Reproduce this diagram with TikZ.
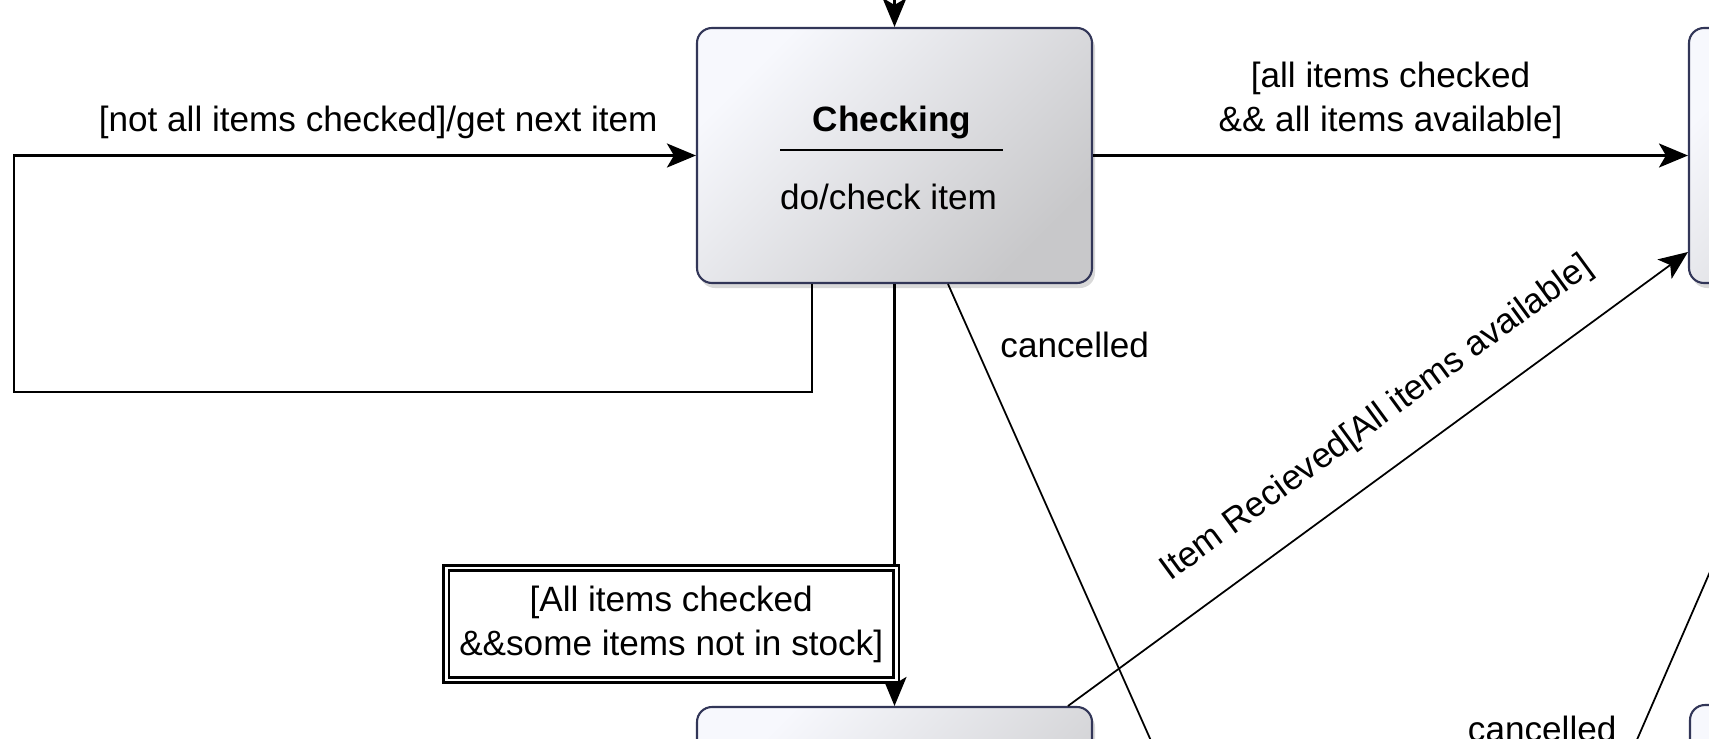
\documentclass[tikz,border=0pt]{standalone}
\usepackage{fontspec}
\setmainfont{Liberation Sans}
\usetikzlibrary{arrows.meta,shadows}

\definecolor{stateLine}{RGB}{50,54,88}
\definecolor{stateLight}{RGB}{247,248,253}
\definecolor{stateDark}{RGB}{200,200,202}

\begin{document}
\begin{tikzpicture}
	\tikzstyle{every node}=[font=\fontsize{10}{12.5}\selectfont]
	\tikzstyle{state}=[draw=stateLine, line width=0.6pt, rounded corners=0.15cm, minimum width=3.95cm, minimum height=2.55cm, top color=stateLight, bottom color=stateDark, shading angle=45, drop shadow={shadow xshift=0.03cm, shadow yshift=-0.05cm, opacity=0.3}]
	\tikzstyle{trans}=[line width=0.75pt, -{Stealth[length=0.29cm, width=0.24cm, inset=0.07cm]}]
	\tikzstyle{diag}=[line width=0.5pt, -{Stealth[length=0.29cm, width=0.24cm, inset=0.07cm]}]
	\tikzstyle{guard}=[draw, line width=0.75pt, double, double distance=0.75pt, minimum width=4.5cm, minimum height=1.12cm, align=center, fill=white]

	\useasboundingbox (0, 0) rectangle (17.09, 7.38);
	\clip (0, 0) rectangle (17.09, 7.38);

	// states
	\node[state](Checking) at (8.945, 5.825) {};
	\node(Checking_Name) at (8.92, 6.16) {\bfseries Checking};
	\node(Checking_Do) at (8.885, 5.41) {do/check item};
	\draw[line width=0.4pt]([xshift=-1.145cm, yshift=0.055cm]Checking.center)--([xshift=1.085cm, yshift=0.055cm]Checking.center);

	\node[state](Dispatching) at (18.865, 5.825) {};
	\node[state](Waiting) at (8.945, -0.965) {};
	\node[state](Delivered) at (18.875, -0.945) {};

	// free ends
	\coordinate(Start) at (8.945, 7.8);
	\coordinate(Loop_Corner) at (0.14, 3.46);
	\coordinate(Cancel_A) at (11.72, -0.5);
	\coordinate(Cancel_B) at (16.16, -0.5);

	// lines
	// start - checking
	\draw[trans](Start)--(Checking.north);
	// checking - checking
	\draw[trans]([xshift=-0.825cm]Checking.south)|-(Loop_Corner)|-(Checking.west) node[pos=0.767, yshift=0.33cm]{[not all items checked]/get next item};
	// checking - dispatching
	\draw[trans](Checking.east)--(Dispatching.west) node[midway, yshift=0.555cm, align=center]{[all items checked\\\&\& all items available]};
	// checking - waiting
	\draw[trans](Checking.south)--(Waiting.north) node[guard, pos=0.806, anchor=east, xshift=0.03cm]{[All items checked\\\&\&some items not in stock]};
	// waiting - dispatching
	\draw[diag]([xshift=1.735cm]Waiting.north)--([yshift=-0.965cm]Dispatching.west) node[pos=0.545, sloped, above=0.2cm]{Item Recieved[All items available]};
	// cancelled
	\draw[diag]([xshift=0.535cm]Checking.south)--(Cancel_A) node[pos=0.12, anchor=west, xshift=0.13cm]{cancelled};
	\draw[diag]([xshift=-0.515cm]Dispatching.south)--(Cancel_B) node[pos=0.883, anchor=east, xshift=-0.126cm]{cancelled};
\end{tikzpicture}
\end{document}
